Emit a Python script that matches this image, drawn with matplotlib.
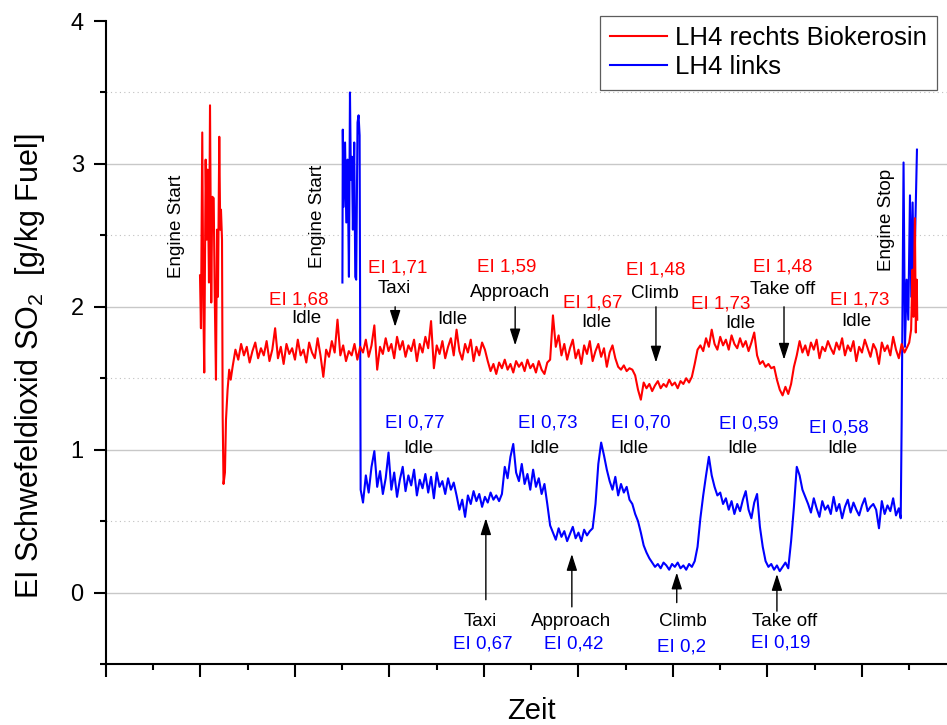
import numpy as np
import matplotlib
matplotlib.use('Agg')
import matplotlib.pyplot as plt

plt.rcParams['font.family'] = ['Liberation Sans', 'DejaVu Sans']
plt.rcParams['mathtext.fontset'] = 'custom'
plt.rcParams['mathtext.rm'] = 'Liberation Sans'

# logged signal, x in time units (10 per major tick), sample step of the log
dt = 0.3

# --- LH4 rechts Biokerosin (red) ---
red_start_t = [9.95, 10.05, 10.19, 10.30, 10.40, 10.55, 10.66, 10.76, 10.90, 11.01,
               11.14, 11.25, 11.40, 11.50, 11.64, 11.75, 11.85, 11.99, 12.09, 12.17,
               12.28, 12.35, 12.44, 12.59, 12.70, 12.87, 13.04, 13.20]
red_start_v = [2.22, 1.85, 3.22, 2.03, 1.54, 3.03, 2.47, 2.96, 2.17, 3.41,
               2.03, 2.77, 2.76, 2.12, 1.49, 2.54, 2.07, 3.19, 2.54, 2.68,
               2.47, 1.23, 0.76, 0.84, 1.21, 1.42, 1.56, 1.49]
red_t0 = 13.4
red_idle_a = [1.58, 1.70, 1.63, 1.74, 1.66, 1.72, 1.61, 1.69, 1.75, 1.64,
              1.71, 1.66, 1.76, 1.62, 1.70, 1.85, 1.64, 1.72, 1.60, 1.74,
              1.67, 1.71, 1.63, 1.77, 1.66, 1.70, 1.61, 1.75, 1.68, 1.64,
              1.78, 1.66, 1.51, 1.70, 1.65, 1.76, 1.68, 1.91, 1.66, 1.73,
              1.62, 1.69]
red_taxi = [1.66, 1.74, 1.63, 1.72, 1.68, 1.77, 1.65, 1.73, 1.87, 1.56,
            1.72, 1.67, 1.78, 1.69, 1.74, 1.64, 1.79, 1.70, 1.76, 1.65,
            1.73, 1.69, 1.77, 1.62, 1.74, 1.68, 1.79, 1.71, 1.90, 1.57,
            1.73, 1.67, 1.76, 1.64, 1.72, 1.78, 1.66, 1.84, 1.69, 1.63,
            1.74, 1.68, 1.77, 1.62, 1.72, 1.66, 1.75, 1.70]
red_approach = [1.62, 1.55, 1.60, 1.53, 1.61, 1.57, 1.63, 1.56, 1.60, 1.54,
                1.62, 1.58, 1.61, 1.55, 1.63, 1.57, 1.60, 1.54, 1.62, 1.56,
                1.53, 1.61, 1.63, 1.94]
red_idle_b = [1.72, 1.80, 1.66, 1.74, 1.63, 1.71, 1.77, 1.64, 1.70, 1.60,
              1.73, 1.67, 1.76, 1.62, 1.69, 1.74, 1.65, 1.71, 1.58, 1.68,
              1.73, 1.64, 1.58, 1.56, 1.59, 1.55, 1.57, 1.56, 1.52, 1.42,
              1.35]
red_climb = [1.47, 1.43, 1.46, 1.41, 1.45, 1.48, 1.43, 1.46, 1.44, 1.49,
             1.45, 1.47, 1.43, 1.48, 1.46, 1.50, 1.47, 1.51, 1.60, 1.70]
red_idle_c = [1.73, 1.69, 1.78, 1.72, 1.84, 1.74, 1.70, 1.79, 1.73, 1.77,
              1.70, 1.80, 1.74, 1.71, 1.78, 1.72, 1.76, 1.69, 1.75, 1.82,
              1.66, 1.60, 1.62, 1.58, 1.60, 1.57, 1.58]
red_takeoff = [1.49, 1.42, 1.38, 1.44, 1.39, 1.46, 1.58, 1.66]
red_idle_d = [1.76, 1.68, 1.73, 1.66, 1.75, 1.70, 1.77, 1.64, 1.72, 1.69,
              1.76, 1.71, 1.67, 1.75, 1.70, 1.78, 1.66, 1.73, 1.69, 1.76,
              1.62, 1.72, 1.68, 1.77, 1.71, 1.65, 1.74, 1.70, 1.60, 1.75,
              1.69, 1.73, 1.66, 1.79, 1.70, 1.64, 1.74, 1.68, 1.72]
red_end_t = [85.0, 85.2, 85.35, 85.45, 85.6, 85.7, 85.8, 85.85]
red_end_v = [1.75, 1.84, 2.26, 1.93, 2.62, 1.82, 2.19, 1.91]

# --- LH4 links (blue) ---
blue_start_t = [25.02, 25.06, 25.15, 25.30, 25.43, 25.57, 25.71, 25.82, 25.92, 26.03,
                26.13, 26.27, 26.38, 26.48, 26.62, 26.73, 26.84, 26.95]
blue_start_v = [2.17, 3.24, 2.70, 3.15, 2.59, 3.03, 2.21, 3.50, 2.89, 3.05,
                2.54, 3.15, 2.21, 2.19, 3.29, 3.34, 3.20, 0.72]
blue_t0 = 27.2
blue_idle_a = [0.63, 0.82, 0.70, 0.88, 0.99, 0.74, 0.85, 0.69, 0.80, 0.98,
               0.72, 0.84, 0.67, 0.79, 0.88, 0.71, 0.82, 0.75, 0.86, 0.68,
               0.79, 0.73, 0.83, 0.70, 0.81, 0.66, 0.84, 0.74, 0.78, 0.69,
               0.80, 0.72, 0.77, 0.68, 0.58, 0.65, 0.53]
blue_taxi = [0.68, 0.62, 0.71, 0.64, 0.69, 0.60, 0.67, 0.63, 0.70, 0.65,
             0.68, 0.64, 0.69]
blue_idle_b = [0.88, 0.80, 0.95, 1.04, 0.84, 0.78, 0.90, 0.76, 0.83, 0.72,
               0.86, 0.74, 0.80, 0.69, 0.76, 0.62, 0.47]
blue_approach = [0.42, 0.37, 0.45, 0.39, 0.43, 0.36, 0.41, 0.46, 0.38, 0.42,
                 0.36, 0.44, 0.40, 0.43, 0.45, 0.62, 0.90, 1.05]
blue_idle_c = [0.96, 0.86, 0.78, 0.72, 0.81, 0.68, 0.76, 0.70, 0.74, 0.65,
               0.62, 0.55, 0.50, 0.42, 0.33, 0.28, 0.24]
blue_climb = [0.21, 0.18, 0.20, 0.17, 0.21, 0.19, 0.16, 0.20, 0.18, 0.21,
              0.17, 0.19, 0.16, 0.20, 0.18, 0.22, 0.32, 0.52, 0.68, 0.82,
              0.95]
blue_idle_d = [0.82, 0.74, 0.68, 0.70, 0.62, 0.66, 0.58, 0.64, 0.55, 0.62,
               0.57, 0.65, 0.71, 0.58, 0.52, 0.63, 0.69, 0.46, 0.32]
blue_takeoff = [0.22, 0.18, 0.20, 0.16, 0.19, 0.15, 0.18, 0.21, 0.17, 0.36,
                0.60, 0.88]
blue_idle_e = [0.82, 0.72, 0.67,
               0.62, 0.56, 0.66, 0.59, 0.53, 0.64, 0.58, 0.61, 0.55, 0.67,
               0.57, 0.62, 0.52, 0.60, 0.65, 0.56, 0.63, 0.58, 0.54, 0.61,
               0.66, 0.57, 0.60, 0.62, 0.58, 0.45, 0.64, 0.55, 0.61, 0.57,
               0.66, 0.54, 0.59]
blue_end_t = [84.1, 84.2, 84.4, 84.55, 84.73, 84.9, 85.08, 85.22, 85.36, 85.5, 85.64, 85.82]
blue_end_v = [0.52, 1.19, 3.01, 1.72, 2.19, 1.91, 2.78, 2.07, 2.73, 2.12, 2.54, 3.10]

red_col = '#ff0000'
blue_col = '#0000ff'

# text notes: (text, x, y, colour)
notes = [
    ('EI 1,68', 20.4, 2.05, red_col), ('Idle', 21.2, 1.92, 'k'),
    ('EI 1,71', 30.9, 2.27, red_col), ('Taxi', 30.5, 2.13, 'k'),
    ('Idle', 36.7, 1.91, 'k'),
    ('EI 1,59', 42.4, 2.28, red_col), ('Approach', 42.75, 2.10, 'k'),
    ('EI 1,67', 51.5, 2.03, red_col), ('Idle', 51.85, 1.89, 'k'),
    ('EI 1,48', 58.2, 2.26, red_col), ('Climb', 58.1, 2.09, 'k'),
    ('EI 1,73', 65.0, 2.02, red_col), ('Idle', 67.1, 1.88, 'k'),
    ('EI 1,48', 71.65, 2.28, red_col), ('Take off', 71.65, 2.12, 'k'),
    ('EI 1,73', 79.8, 2.05, red_col), ('Idle', 79.4, 1.90, 'k'),
    ('EI 0,77', 32.7, 1.19, blue_col), ('Idle', 33.1, 1.01, 'k'),
    ('EI 0,73', 46.7, 1.19, blue_col), ('Idle', 46.4, 1.01, 'k'),
    ('EI 0,70', 56.6, 1.19, blue_col), ('Idle', 55.8, 1.01, 'k'),
    ('EI 0,59', 68.0, 1.18, blue_col), ('Idle', 67.3, 1.01, 'k'),
    ('EI 0,58', 77.6, 1.15, blue_col), ('Idle', 77.9, 1.01, 'k'),
    ('Taxi', 39.6, -0.20, 'k'), ('EI 0,67', 39.9, -0.36, blue_col),
    ('Approach', 49.2, -0.20, 'k'), ('EI 0,42', 49.5, -0.36, blue_col),
    ('Climb', 61.05, -0.20, 'k'), ('EI 0,2', 60.95, -0.38, blue_col),
    ('Take off', 71.85, -0.20, 'k'), ('EI 0,19', 71.4, -0.35, blue_col),
]
vertical_notes = [('Engine Start', 7.5, 2.56), ('Engine Start', 22.4, 2.63),
                  ('Engine Stop', 82.55, 2.61)]
# arrows: (x, tail y, tip y)
arrows = [(30.6, 2.00, 1.86), (43.3, 2.00, 1.73), (58.2, 2.00, 1.61), (71.75, 2.00, 1.63),
          (40.2, -0.05, 0.52), (49.3, -0.10, 0.27), (60.4, -0.07, 0.14), (71.0, -0.13, 0.13)]

# build the two series
red_v = red_idle_a + red_taxi + red_approach + red_idle_b + red_climb + red_idle_c + red_takeoff + red_idle_d
red_t = np.concatenate([red_start_t, red_t0 + dt * np.arange(len(red_v)), red_end_t])
red_y = np.concatenate([red_start_v, red_v, red_end_v])

blue_v = (blue_idle_a + blue_taxi + blue_idle_b + blue_approach + blue_idle_c
          + blue_climb + blue_idle_d + blue_takeoff + blue_idle_e)
blue_t = np.concatenate([blue_start_t, blue_t0 + dt * np.arange(len(blue_v)), blue_end_t])
blue_y = np.concatenate([blue_start_v, blue_v, blue_end_v])

fig = plt.figure(figsize=(9.47, 7.25), dpi=100)
# axis runs on past the right edge of the picture, like the original
ax = fig.add_axes([0.1119, 0.0841, 0.8981, 0.8869])

ax.plot(blue_t, blue_y, color=blue_col, lw=1.5, label='LH4 links', zorder=3)
ax.plot(red_t, red_y, color=red_col, lw=1.5, label='LH4 rechts Biokerosin', zorder=4)

ax.set_xlim(0, 90)
ax.set_ylim(-0.5, 4)
ax.set_xticks(np.arange(0, 91, 10))
ax.set_xticks(np.arange(5, 90, 10), minor=True)
ax.set_yticks([0, 1, 2, 3, 4])
ax.set_yticks([-0.5, 0.5, 1.5, 2.5, 3.5], minor=True)
ax.tick_params(axis='x', which='both', labelbottom=False)
ax.tick_params(which='major', direction='out', length=9, width=1.5, labelsize=17, pad=7)
ax.tick_params(which='minor', direction='out', length=4.5, width=1.5)

for s in ['top', 'right']:
    ax.spines[s].set_visible(False)
for s in ['left', 'bottom']:
    ax.spines[s].set_linewidth(1.5)

ax.grid(which='major', axis='y', color='#c8c8c8', lw=1.0)
ax.grid(which='minor', axis='y', color='#c0c0c0', lw=0.8, ls=(0, (1, 3)))
for gl, loc in zip(ax.yaxis.get_gridlines(), ax.yaxis.get_majorticklocs()):
    if loc >= 4:
        gl.set_visible(False)
ax.set_axisbelow(True)

ax.set_ylabel('EI Schwefeldioxid SO$_\\mathrm{2}$  [g/kg Fuel]', fontsize=22, va='center')
ax.yaxis.set_label_coords(-0.0894, 0.463)
ax.set_xlabel('Zeit', fontsize=21, va='center')
ax.xaxis.set_label_coords(0.5, -0.073)

for txt, x, y, c in notes:
    ax.text(x, y, txt, color=c, fontsize=13.5, ha='center', va='center', zorder=5)
for txt, x, y in vertical_notes:
    ax.text(x, y, txt, color='k', fontsize=13.5, rotation=90, ha='center', va='center', zorder=5)
for x, y0, y1 in arrows:
    ax.annotate('', xy=(x, y1), xytext=(x, y0),
                arrowprops=dict(arrowstyle='-|>,head_length=0.5,head_width=0.16',
                                mutation_scale=20, color='k', lw=1.0,
                                shrinkA=0, shrinkB=0), zorder=6)

leg = ax.legend(handles=ax.get_lines()[::-1], loc='upper left', fontsize=18.5,
                bbox_to_anchor=(600 / 947, 1 - 16 / 725), bbox_transform=fig.transFigure,
                frameon=True, fancybox=False, borderpad=0.4, labelspacing=0.2,
                handlelength=2.2, handletextpad=0.3, borderaxespad=0)
leg.get_frame().set_edgecolor('#333333')
leg.get_frame().set_linewidth(0.9)
leg.set_zorder(10)

fig.savefig('out.png', dpi=100)
